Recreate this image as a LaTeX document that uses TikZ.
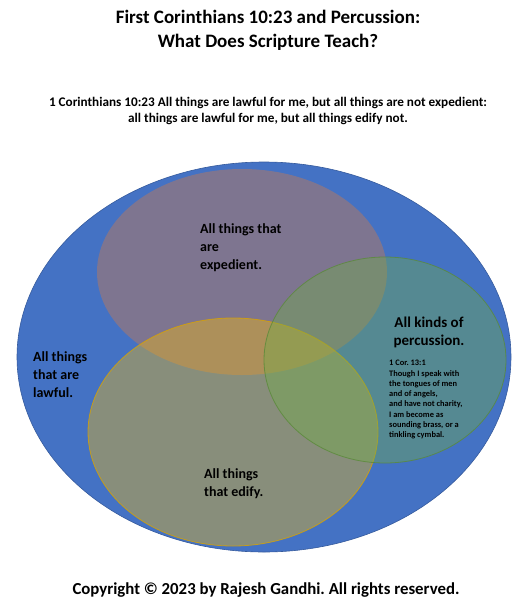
\documentclass[tikz,border=0pt]{standalone}
\usepackage{fontspec}
\setmainfont{Carlito}
\frenchspacing
\usetikzlibrary{shapes.geometric, positioning}
\definecolor{lawblue}{HTML}{4472C4}
\definecolor{expcol}{HTML}{ED7D31}
\definecolor{edicol}{HTML}{FFC000}
\definecolor{percol}{HTML}{70AD47}

\begin{document}
\begin{tikzpicture}[
    x=1pt, y=-1pt,
    venn/.style = {ellipse, inner sep=0pt},
    lawset/.style = {venn, fill=lawblue, draw=lawblue!80!black,
                     line width=0.6pt},
    expset/.style = {venn, fill=expcol, fill opacity=0.35},
    ediset/.style = {venn, fill=edicol, fill opacity=0.37,
                     draw=edicol!85!black, draw opacity=0.8,
                     line width=0.8pt},
    perset/.style = {venn, fill=percol, fill opacity=0.40,
                     draw=percol!80!black, draw opacity=0.8,
                     line width=0.8pt},
    lbl/.style    = {font=\fontsize{14}{18}\selectfont\bfseries,
                     align=left, anchor=west, inner sep=0pt},
    verse/.style  = {font=\fontsize{8.4}{10.3}\selectfont\bfseries,
                     align=left, anchor=north west, inner sep=0pt}
  ]
  \useasboundingbox (0,0) rectangle (523,603);

  %% Heading
  \node[font=\fontsize{19}{24}\selectfont\bfseries, align=center]
        (title) at (268,30)
        {First Corinthians 10:23 and Percussion:\\
         What Does Scripture Teach?};
  \node[font=\fontsize{13.2}{16}\selectfont\bfseries, align=center]
        (verse1) at (268,111)
        {1 Corinthians 10:23 All things are lawful for me, but all things are not expedient:\\
         all things are lawful for me, but all things edify not.};

  %% Sets
  \node[lawset, minimum width=494, minimum height=390]
        (lawful) at (264,357) {};
  \node[expset, minimum width=290, minimum height=206]
        (expedient) at (242,272) {};
  \node[ediset, minimum width=290, minimum height=228]
        (edify) at (233,432) {};
  \node[perset, minimum width=242, minimum height=206]
        (percussion) at (385,360) {};

  %% Set labels
  \node[lbl] (explbl) at (200,248)
        {All things that\\are\\expedient.};
  \node[lbl] (lawlbl) at (33,375)
        {All things\\that are\\lawful.};
  \node[lbl] (edilbl) at (204,484)
        {All things\\that edify.};
  \node[font=\fontsize{15}{18}\selectfont\bfseries, align=center]
        (perlbl) at (429,332)
        {All kinds of\\percussion.};
  \node[verse] (corlbl) at (389,360)
        {1 Cor. 13:1\\
         Though I speak with\\
         the tongues of men\\
         and of angels,\\
         and have not charity,\\
         I am become as\\
         sounding brass, or a\\
         tinkling cymbal.};

  %% Footer
  \node[font=\fontsize{16.8}{18}\selectfont\bfseries]
        (copy) at (266,590)
        {Copyright © 2023 by Rajesh Gandhi. All rights reserved.};
\end{tikzpicture}
\end{document}
